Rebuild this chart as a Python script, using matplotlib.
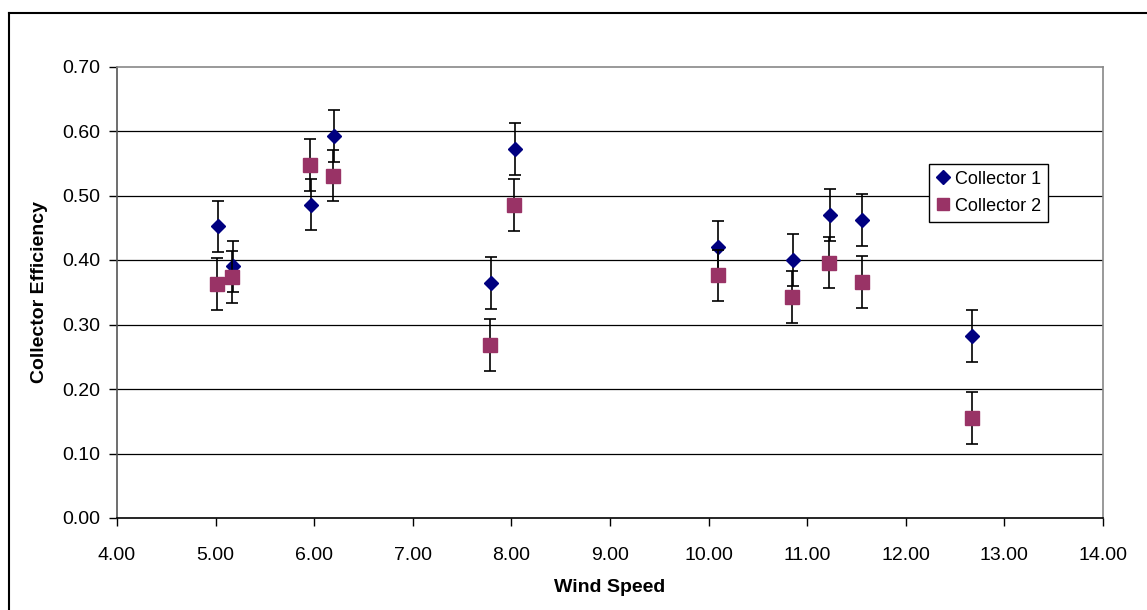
import matplotlib
matplotlib.use("Agg")
import matplotlib.pyplot as plt
from matplotlib.lines import Line2D

plt.rcParams['font.family'] = ['Liberation Sans', 'DejaVu Sans']

# wind speed / efficiency
wind1 = [5.02, 5.18, 5.97, 6.20, 7.79, 8.04, 10.10, 10.86, 11.23, 11.56, 12.67]
eff1 = [0.452, 0.390, 0.486, 0.592, 0.364, 0.572, 0.420, 0.400, 0.470, 0.462, 0.282]
err1 = [0.04] * len(wind1)

wind2 = [5.01, 5.17, 5.96, 6.19, 7.78, 8.03, 10.10, 10.85, 11.22, 11.56, 12.67]
eff2 = [0.363, 0.374, 0.547, 0.531, 0.268, 0.485, 0.376, 0.343, 0.396, 0.366, 0.155]
err2 = [0.04] * len(wind2)

xticks = [4, 5, 6, 7, 8, 9, 10, 11, 12, 13, 14]
yticks = [0.0, 0.1, 0.2, 0.3, 0.4, 0.5, 0.6, 0.7]

W, H = 1147, 610
fig = plt.figure(figsize=(W / 100, H / 100), dpi=100)
ax = fig.add_axes([117 / W, 1 - 518 / H, (1103 - 117) / W, (518 - 66.5) / H])

# outer chart border (left and top only visible)
fig.add_artist(Line2D([8.5 / W, 8.5 / W], [0, 1 - 12.5 / H], color='black', lw=1.5))
fig.add_artist(Line2D([8.5 / W, 1], [1 - 12.5 / H, 1 - 12.5 / H], color='black', lw=1.5))

for y in yticks[1:-1]:
    ax.axhline(y, color='black', lw=0.9, zorder=1)

ax.errorbar(wind1, eff1, yerr=err1, fmt='D', color='#000080', ms=7.5,
            ecolor='black', elinewidth=1.2, capsize=4.2, capthick=1.2,
            label='Collector 1', zorder=3)
ax.errorbar(wind2, eff2, yerr=err2, fmt='s', color='#993366', ms=10,
            ecolor='black', elinewidth=1.2, capsize=4.2, capthick=1.2,
            label='Collector 2', zorder=4)

ax.set_xlim(4, 14)
ax.set_ylim(0, 0.7)
ax.set_xticks(xticks)
ax.set_yticks(yticks)
ax.set_xticklabels(['%.2f' % v for v in xticks])
ax.set_yticklabels(['%.2f' % v for v in yticks])
ax.tick_params(axis='both', direction='out', length=6, width=1, labelsize=14,
               colors='black')
ax.tick_params(axis='x', pad=15)
ax.tick_params(axis='y', pad=6)

ax.spines['top'].set_color('#888888')
ax.spines['right'].set_color('#888888')
ax.spines['left'].set_color('#555555')
ax.spines['bottom'].set_color('black')
for s in ax.spines.values():
    s.set_linewidth(1.2)

ax.set_xlabel('Wind Speed', fontsize=14, fontweight='bold', labelpad=11)
ax.set_ylabel('Collector Efficiency', fontsize=14, fontweight='bold', labelpad=10)

handles, labels = ax.get_legend_handles_labels()
handles = [h[0] for h in handles]
leg = ax.legend(handles, labels, loc='upper left', bbox_to_anchor=(0.824, 0.785),
                fontsize=13, frameon=True, fancybox=False, edgecolor='black',
                framealpha=1, handlelength=0.7, handletextpad=0.3,
                borderpad=0.4, labelspacing=0.55, borderaxespad=0)
leg.get_frame().set_linewidth(1)
for h in leg.legend_handles:
    h.set_markersize(h.get_markersize() * 0.92)

fig.savefig('out.png', dpi=100, facecolor='white')
